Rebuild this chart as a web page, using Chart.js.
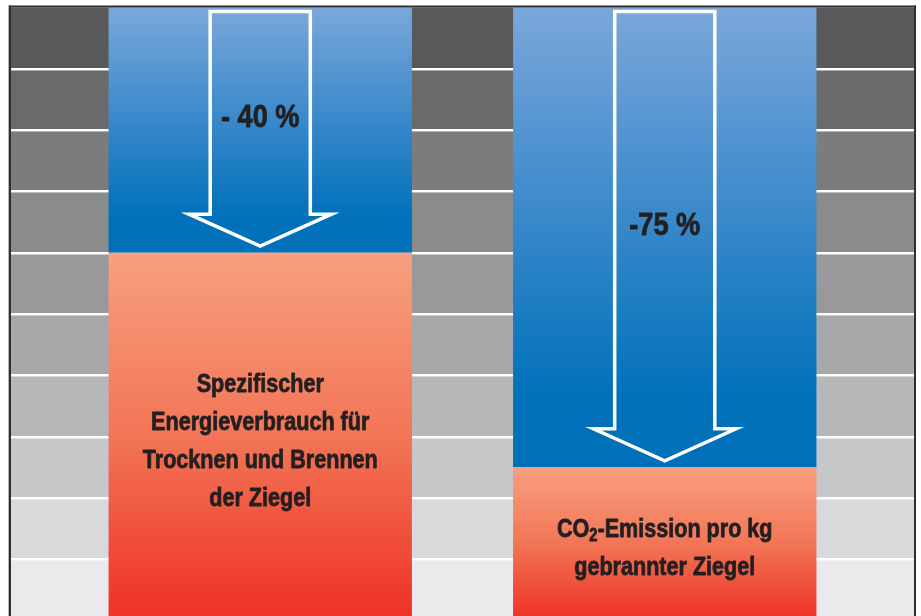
<!DOCTYPE html>
<html>
<head>
<meta charset="utf-8">
<script src="https://cdn.jsdelivr.net/npm/chart.js@4"></script>
<style>
  html, body { margin: 0; padding: 0; background: #fff; overflow: hidden; }
  #wrap { position: relative; width: 921px; height: 624px; }
</style>
</head>
<body>
<div id="wrap"><canvas id="chart"></canvas></div>
<script>
const categories = ['Energieverbrauch', 'CO2-Emission'];
const remainingShare = [60, 25];
const reductionShare = [40, 75];
const reductionLabels = ['- 40 %', '-75 %'];
const barTextLines = [
  ['Spezifischer', 'Energieverbrauch für', 'Trocknen und Brennen', 'der Ziegel'],
  ['CO₂-Emission pro kg', 'gebrannter Ziegel']
];
const bandTicks = [0, 10, 20, 30, 40, 50, 60, 70, 80, 90, 100];

const BAND_COLORS = ['#58595b', '#6a6a6c', '#7b7c7e', '#8a8b8d', '#99999c', '#a7a8aa', '#b6b7b9', '#c6c7c9', '#d8d9db', '#eaeaec'];
const TEXT_COLOR = '#231f20';
const FONT = "'Liberation Sans', Arial, sans-serif";
const NARROW = 0.83; // squeeze to mimic a condensed face
const FRAME = { left: 11, right: 7 };

function barGradient(ctx, top, bottom, stops) {
  const g = ctx.createLinearGradient(0, top, 0, bottom);
  stops.forEach(([p, c]) => g.addColorStop(p, c));
  return g;
}

function redFill(c) {
  const chart = c.chart, y = chart.scales.y;
  if (!chart.chartArea || !y) return '#f26a4a';
  const i = c.dataIndex;
  return barGradient(chart.ctx, y.getPixelForValue(remainingShare[i]), y.getPixelForValue(0),
    [[0, '#f7a07f'], [0.5, '#f27556'], [1, '#ee3124']]);
}

function blueFill(c) {
  const chart = c.chart, y = chart.scales.y;
  if (!chart.chartArea || !y) return '#3a87c9';
  const i = c.dataIndex;
  return barGradient(chart.ctx, y.getPixelForValue(remainingShare[i] + reductionShare[i]), y.getPixelForValue(remainingShare[i]),
    [[0, '#7ba7da'], [0.45, '#3a89cb'], [0.85, '#0071ba'], [1, '#0070b9']]);
}

const backdrop = {
  id: 'backdrop',
  beforeDatasetsDraw(chart) {
    const { ctx, chartArea: a, scales: { y } } = chart;
    const left = FRAME.left, right = chart.width - FRAME.right;
    ctx.save();
    for (let k = 0; k < bandTicks.length - 1; k++) {
      const top = y.getPixelForValue(bandTicks[bandTicks.length - 1 - k]);
      const bot = y.getPixelForValue(bandTicks[bandTicks.length - 2 - k]);
      ctx.fillStyle = BAND_COLORS[k];
      ctx.fillRect(left, top, right - left, bot - top);
    }
    bandTicks.slice(1, -1).forEach(v => {
      const py = Math.round(y.getPixelForValue(v));
      ctx.fillStyle = '#ffffff';
      ctx.fillRect(left, py - 1, right - left, 2);
      ctx.fillStyle = 'rgba(255,255,255,0.45)';
      ctx.fillRect(left, py + 1, right - left, 1);
    });
    // frame
    ctx.fillStyle = '#b5b5b5';
    ctx.fillRect(left - 3, a.top - 2, 1, 700);
    ctx.fillStyle = '#2e2e2e';
    ctx.fillRect(left - 2, a.top - 2, 2, 700);
    ctx.fillRect(right, a.top - 2, 2, 700);
    ctx.fillRect(left - 2, a.top - 2, right - left + 4, 2);
    ctx.restore();
  }
};

function drawRich(ctx, text, cx, baseline, size, sx) {
  const parts = text.split('₂');
  const subSize = size * 0.68;
  const widths = parts.map(p => { ctx.font = `bold ${size}px ${FONT}`; return ctx.measureText(p).width * sx; });
  ctx.font = `bold ${subSize}px ${FONT}`;
  const subW = ctx.measureText('2').width * sx;
  const total = widths.reduce((s, w) => s + w, 0) + subW * (parts.length - 1);
  let x = cx - total / 2;
  ctx.textAlign = 'left';
  const put = (str, px, py, fs) => {
    ctx.save();
    ctx.translate(px, py);
    ctx.scale(sx, 1);
    ctx.font = `bold ${fs}px ${FONT}`;
    ctx.strokeStyle = TEXT_COLOR;
    ctx.lineWidth = 0.8;
    ctx.lineJoin = 'round';
    ctx.strokeText(str, 0, 0);
    ctx.fillText(str, 0, 0);
    ctx.restore();
  };
  parts.forEach((p, j) => {
    put(p, x, baseline, size);
    x += widths[j];
    if (j < parts.length - 1) {
      put('2', x, baseline + size * 0.16, subSize);
      x += subW;
    }
  });
}

const overlay = {
  id: 'overlay',
  afterDatasetsDraw(chart) {
    const ctx = chart.ctx;
    const redMeta = chart.getDatasetMeta(0), blueMeta = chart.getDatasetMeta(1);
    ctx.save();
    categories.forEach((cat, i) => {
      const blue = blueMeta.data[i], red = redMeta.data[i];
      const cx = blue.x, w = blue.width;
      const top = blue.y, bottom = blue.base;
      const sw = w * 0.33, hw = w * 0.47;
      const shaftTop = top + 4, tipY = bottom - 6.5, headY = tipY - 32;
      ctx.beginPath();
      ctx.moveTo(cx - sw / 2, shaftTop);
      ctx.lineTo(cx - sw / 2, headY);
      ctx.lineTo(cx - hw / 2, headY);
      ctx.lineTo(cx, tipY);
      ctx.lineTo(cx + hw / 2, headY);
      ctx.lineTo(cx + sw / 2, headY);
      ctx.lineTo(cx + sw / 2, shaftTop);
      ctx.closePath();
      ctx.strokeStyle = '#ffffff';
      ctx.lineWidth = 3.5;
      ctx.lineJoin = 'miter';
      ctx.stroke();

      ctx.fillStyle = TEXT_COLOR;
      ctx.textBaseline = 'alphabetic';
      const pSize = 32;
      const pMid = (shaftTop + headY) / 2 + 3;
      drawRich(ctx, reductionLabels[i], cx, pMid + pSize * 0.36, pSize, 0.85);

      const tSize = 26, lh = 38;
      const lines = barTextLines[i];
      const mid = (red.y + red.base) / 2 + 3;
      lines.forEach((ln, k) => {
        const cy = mid + (k - (lines.length - 1) / 2) * lh;
        drawRich(ctx, ln, red.x, cy + tSize * 0.36, tSize, NARROW);
      });
    });
    ctx.restore();
  }
};

new Chart(document.getElementById('chart'), {
  type: 'bar',
  data: {
    labels: categories,
    datasets: [
      { label: 'verbleibend', data: remainingShare, backgroundColor: redFill, borderWidth: 0 },
      { label: 'Reduktion', data: reductionShare, backgroundColor: blueFill, borderWidth: 0 }
    ]
  },
  options: {
    responsive: true, maintainAspectRatio: false, animation: false,
    layout: { padding: { left: 58, right: 54, top: 7.5, bottom: 3.5 } },
    datasets: { bar: { barPercentage: 0.75, categoryPercentage: 1 } },
    plugins: { legend: { display: false }, tooltip: { enabled: false } },
    scales: {
      x: { stacked: true, display: false },
      y: { stacked: true, display: false, min: 0, max: 100 }
    }
  },
  plugins: [backdrop, overlay]
});
</script>
</body>
</html>
